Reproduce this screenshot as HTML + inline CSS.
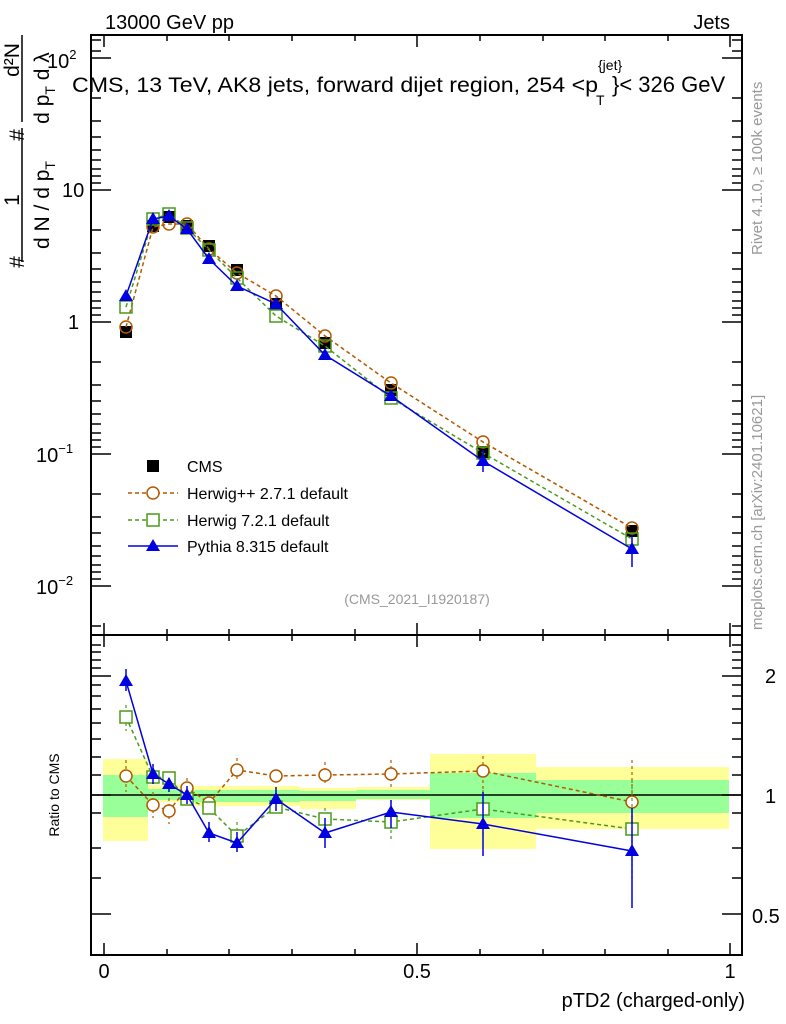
<!DOCTYPE html><html><head><meta charset="utf-8"><style>body{margin:0;background:#fff}svg{display:block;font-family:"Liberation Sans",sans-serif}</style></head><body>
<svg width="786" height="1024" viewBox="0 0 786 1024">
<g>
<rect x="103" y="759" width="45" height="82" fill="#ffff99"/><rect x="103" y="775" width="45" height="42" fill="#99ff99"/>
<rect x="148" y="785" width="39" height="17" fill="#ffff99"/><rect x="148" y="789" width="39" height="11" fill="#99ff99"/>
<rect x="187" y="786" width="113" height="20" fill="#ffff99"/><rect x="187" y="790" width="113" height="12" fill="#99ff99"/>
<rect x="300" y="788" width="56" height="21" fill="#ffff99"/><rect x="300" y="791" width="56" height="10" fill="#99ff99"/>
<rect x="356" y="787" width="74" height="13" fill="#ffff99"/><rect x="356" y="790" width="74" height="9" fill="#99ff99"/>
<rect x="430" y="754" width="106" height="95" fill="#ffff99"/><rect x="430" y="773" width="106" height="45" fill="#99ff99"/>
<rect x="536" y="767" width="193" height="62" fill="#ffff99"/><rect x="536" y="780" width="193" height="33" fill="#99ff99"/>
</g>
<line x1="91" y1="795" x2="742" y2="795" stroke="#000" stroke-width="1.5"/>
<rect x="91" y="35" width="651" height="600" fill="none" stroke="#000" stroke-width="2"/>
<rect x="91" y="635" width="651" height="320" fill="none" stroke="#000" stroke-width="2"/>
<g stroke="#000" stroke-width="1.5">
<path d="M91 58h20M742 58h-20M91 190h20M742 190h-20M91 322h20M742 322h-20M91 454h20M742 454h-20M91 586h20M742 586h-20"/>
<path d="M91 98h10M91 121h10M91 137h10M91 150h10M91 160h10M91 169h10M91 176h10M91 183h10
M91 230h10M91 253h10M91 269h10M91 282h10M91 292h10M91 301h10M91 308h10M91 315h10
M91 362h10M91 385h10M91 401h10M91 414h10M91 424h10M91 433h10M91 440h10M91 447h10
M91 494h10M91 517h10M91 533h10M91 546h10M91 556h10M91 565h10M91 572h10M91 579h10
M91 626h10M91 40h10M91 51h10
M742 98h-10M742 121h-10M742 137h-10M742 150h-10M742 160h-10M742 169h-10M742 176h-10M742 183h-10
M742 230h-10M742 253h-10M742 269h-10M742 282h-10M742 292h-10M742 301h-10M742 308h-10M742 315h-10
M742 362h-10M742 385h-10M742 401h-10M742 414h-10M742 424h-10M742 433h-10M742 440h-10M742 447h-10
M742 494h-10M742 517h-10M742 533h-10M742 546h-10M742 556h-10M742 565h-10M742 572h-10M742 579h-10
M742 626h-10M742 40h-10M742 51h-10"/>
<path d="M104 35v12M417 35v12M730 35v12M104 635v-12M417 635v-12M730 635v-12M104 955v-12M417 955v-12M730 955v-12M104 635v12M417 635v12M730 635v12
M167 35v6M229 35v6M292 35v6M355 35v6M480 35v6M543 35v6M605 35v6M668 35v6
M167 635v-6M229 635v-6M292 635v-6M355 635v-6M480 635v-6M543 635v-6M605 635v-6M668 635v-6
M167 635v6M229 635v6M292 635v6M355 635v6M480 635v6M543 635v6M605 635v6M668 635v6
M167 955v-6M229 955v-6M292 955v-6M355 955v-6M480 955v-6M543 955v-6M605 955v-6M668 955v-6"/>
<path d="M91 676h20M742 676h-20M91 795h20M742 795h-20M91 914h20M742 914h-20
M91 645h10M91 652h10M91 660h10M91 668h10M91 685h10M91 696h10M91 709h10M91 723h10M91 739h10M91 757h10M91 775h10M91 813h10M91 848h10M91 878h10
M742 645h-10M742 652h-10M742 660h-10M742 668h-10M742 685h-10M742 696h-10M742 709h-10M742 723h-10M742 739h-10M742 757h-10M742 775h-10M742 813h-10M742 848h-10M742 878h-10"/>
</g>
<g font-size="20" fill="#000">
<text x="105" y="29">13000 GeV pp</text>
<text x="730" y="29" text-anchor="end">Jets</text>
<text x="47" y="68">10<tspan font-size="13" dy="-9">2</tspan></text>
<text x="62" y="197">10</text>
<text x="68" y="329">1</text>
<text x="36" y="462">10<tspan font-size="13" dy="-9">−1</tspan></text>
<text x="36" y="594">10<tspan font-size="13" dy="-9">−2</tspan></text>
<text x="765" y="683">2</text>
<text x="765" y="803">1</text>
<text x="752" y="923">0.5</text>
<text x="104" y="978" text-anchor="middle">0</text>
<text x="417" y="978" text-anchor="middle">0.5</text>
<text x="730" y="978" text-anchor="middle">1</text>
<text x="745" y="1007" text-anchor="end">pTD2 (charged-only)</text>
<text x="72" y="92" font-size="21" textLength="526" lengthAdjust="spacingAndGlyphs">CMS, 13 TeV, AK8 jets, forward dijet region, 254 &lt;p</text>
<text x="598" y="70" font-size="14">{jet}</text>
<text x="596" y="105" font-size="14">T</text>
<text x="612" y="92" font-size="22">}&lt; 326 GeV</text>
</g>
<text x="59" y="795" font-size="14" transform="rotate(-90 59 795)" text-anchor="middle">Ratio to CMS</text>
<line x1="22" y1="35" x2="22" y2="122" stroke="#000" stroke-width="1.5"/>
<line x1="22" y1="128" x2="22" y2="262" stroke="#000" stroke-width="1.5"/>
<g font-size="21" fill="#000">
<text transform="translate(19,60) rotate(-90)" text-anchor="middle">d²N</text>
<text transform="translate(49,88) rotate(-90)" text-anchor="middle">d p<tspan font-size="14" dy="6">T</tspan><tspan dy="-6">  d λ</tspan></text>
<text transform="translate(24,135) rotate(-90)" text-anchor="middle">#</text>
<text transform="translate(19,200) rotate(-90)" text-anchor="middle">1</text>
<text transform="translate(49,205) rotate(-90)" text-anchor="middle">d N / d p<tspan font-size="14" dy="6">T</tspan></text>
<text transform="translate(24,262) rotate(-90)" text-anchor="middle">#</text>
</g>
<g font-size="15" fill="#999">
<text transform="translate(762,255) rotate(-90)">Rivet 4.1.0, ≥ 100k events</text>
<text transform="translate(762,630) rotate(-90)">mcplots.cern.ch [arXiv:2401.10621]</text>
<text x="417" y="604" font-size="14" text-anchor="middle">(CMS_2021_I1920187)</text>
</g>
<rect x="147" y="460" width="12" height="12" fill="#000"/>
<text x="187" y="472" font-size="16">CMS</text>
<path d="M128 493h50" stroke="#b35900" stroke-dasharray="4,3" stroke-width="1.5"/><circle cx="153" cy="493" r="6" fill="#fff" stroke="#b35900" stroke-width="1.5"/>
<text x="187" y="499" font-size="16">Herwig++ 2.7.1 default</text>
<path d="M128 520h50" stroke="#4a9a1a" stroke-dasharray="4,3" stroke-width="1.5"/><rect x="147" y="514" width="12" height="12" fill="#fff" stroke="#4a9a1a" stroke-width="1.5"/>
<text x="187" y="526" font-size="16">Herwig 7.2.1 default</text>
<path d="M128 546h50" stroke="#0000e0" stroke-width="1.5"/><path d="M153 539l7 12h-14z" fill="#0000e0"/>
<text x="187" y="552" font-size="16">Pythia 8.315 default</text>
<g fill="#000">
<rect x="120" y="326" width="12" height="12"/><rect x="147" y="220" width="12" height="12"/><rect x="163" y="211" width="12" height="12"/><rect x="181" y="220" width="12" height="12"/><rect x="203" y="240" width="12" height="12"/><rect x="231" y="264" width="12" height="12"/><rect x="270" y="298" width="12" height="12"/><rect x="319" y="337" width="12" height="12"/><rect x="385" y="384" width="12" height="12"/><rect x="477" y="446" width="12" height="12"/><rect x="626" y="525" width="12" height="12"/>
</g>
<polyline points="126,327 153,227 169,224 187,224 209,249 237,273 276,296 325,336 391,383 483,442 632,528" fill="none" stroke="#b35900" stroke-width="1.5" stroke-dasharray="4,3"/>
<g fill="none" stroke="#b35900" stroke-width="1.5"><circle cx="126" cy="327" r="6"/><circle cx="153" cy="227" r="6"/><circle cx="169" cy="224" r="6"/><circle cx="187" cy="224" r="6"/><circle cx="209" cy="249" r="6"/><circle cx="237" cy="273" r="6"/><circle cx="276" cy="296" r="6"/><circle cx="325" cy="336" r="6"/><circle cx="391" cy="383" r="6"/><circle cx="483" cy="442" r="6"/><circle cx="632" cy="528" r="6"/></g>
<polyline points="126,307 153,219 169,214 187,228 209,250 237,278 276,316 325,346 391,398 483,453 632,539" fill="none" stroke="#4a9a1a" stroke-width="1.5" stroke-dasharray="4,3"/>
<g fill="none" stroke="#4a9a1a" stroke-width="1.5"><rect x="120" y="301" width="12" height="12"/><rect x="147" y="213" width="12" height="12"/><rect x="163" y="208" width="12" height="12"/><rect x="181" y="222" width="12" height="12"/><rect x="203" y="244" width="12" height="12"/><rect x="231" y="272" width="12" height="12"/><rect x="270" y="310" width="12" height="12"/><rect x="319" y="340" width="12" height="12"/><rect x="385" y="392" width="12" height="12"/><rect x="477" y="447" width="12" height="12"/><rect x="626" y="533" width="12" height="12"/></g>
<polyline points="126,296 153,219 169,216 187,229 209,259 237,286 276,304 325,355 391,396 483,461 632,549" fill="none" stroke="#0000e0" stroke-width="1.5"/>
<g fill="#0000e0"><path d="M126 289l7 12h-14zM153 212l7 12h-14zM169 209l7 12h-14zM187 222l7 12h-14zM209 252l7 12h-14zM237 279l7 12h-14zM276 297l7 12h-14zM325 348l7 12h-14zM391 389l7 12h-14zM483 454l7 12h-14zM632 542l7 12h-14z"/></g>
<path d="M483 450v22M632 535v32" stroke="#0000e0" stroke-width="1.5"/>
<polyline points="126,776 153,805 169,811 187,788 209,803 237,770 276,776 325,775 391,774 483,771 632,802" fill="none" stroke="#b35900" stroke-width="1.5" stroke-dasharray="4,3"/>
<path d="M126 760v32M153 792v26M169 798v26M187 778v22M237 758v22M325 762v24M391 760v28M483 756v34M632 760v66" stroke="#b35900" stroke-width="1.2" stroke-dasharray="3,3"/>
<g fill="#fff" stroke="#b35900" stroke-width="1.5"><circle cx="126" cy="776" r="6"/><circle cx="153" cy="805" r="6"/><circle cx="169" cy="811" r="6"/><circle cx="187" cy="788" r="6"/><circle cx="209" cy="803" r="6"/><circle cx="237" cy="770" r="6"/><circle cx="276" cy="776" r="6"/><circle cx="325" cy="775" r="6"/><circle cx="391" cy="774" r="6"/><circle cx="483" cy="771" r="6"/><circle cx="632" cy="802" r="6"/></g>
<polyline points="126,717 153,777 169,778 187,799 209,808 237,836 276,807 325,819 391,822 483,809 632,829" fill="none" stroke="#4a9a1a" stroke-width="1.5" stroke-dasharray="4,3"/>
<path d="M126 705v26M237 822v28M325 808v24M391 800v40M483 790v46M632 780v100" stroke="#4a9a1a" stroke-width="1.2" stroke-dasharray="3,3"/>
<g fill="#fff" stroke="#4a9a1a" stroke-width="1.5"><rect x="120" y="711" width="12" height="12"/><rect x="147" y="771" width="12" height="12"/><rect x="163" y="772" width="12" height="12"/><rect x="181" y="793" width="12" height="12"/><rect x="203" y="802" width="12" height="12"/><rect x="231" y="830" width="12" height="12"/><rect x="270" y="801" width="12" height="12"/><rect x="319" y="813" width="12" height="12"/><rect x="385" y="816" width="12" height="12"/><rect x="477" y="803" width="12" height="12"/><rect x="626" y="823" width="12" height="12"/></g>
<polyline points="126,681 153,774 169,784 187,795 209,833 237,843 276,799 325,833 391,812 483,824 632,851" fill="none" stroke="#0000e0" stroke-width="1.5"/>
<path d="M126 669v22M153 764v20M169 778v14M187 786v18M209 822v20M237 832v20M276 787v24M325 818v30M391 800v28M483 792v64M632 808v100" stroke="#0000e0" stroke-width="1.5"/>
<g fill="#0000e0"><path d="M126 674l7 12h-14zM153 767l7 12h-14zM169 777l7 12h-14zM187 788l7 12h-14zM209 826l7 12h-14zM237 836l7 12h-14zM276 792l7 12h-14zM325 826l7 12h-14zM391 805l7 12h-14zM483 817l7 12h-14zM632 844l7 12h-14z"/></g>
</svg>
</body></html>
